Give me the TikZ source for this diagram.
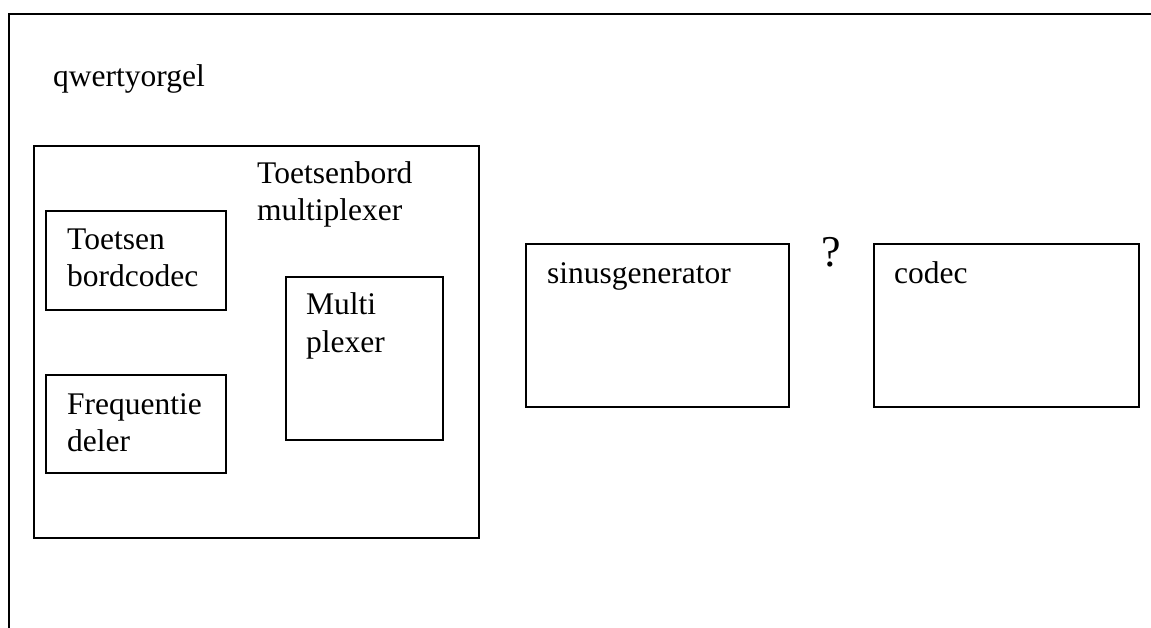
\documentclass[tikz,border=0pt]{standalone}
\usepackage{fontspec}
\setmainfont{Liberation Serif}
\begin{document}
\begin{tikzpicture}[x=1pt,y=-1pt,
  box/.style={draw=black,line width=1.8pt,inner sep=0pt,anchor=north west},
  lbl/.style={inner sep=0pt,anchor=base west,align=left,font=\fontsize{31.5}{37}\selectfont}]
\useasboundingbox (0,0) rectangle (1151,628);
\draw[line width=2.2pt] (9,640) -- (9,14) -- (1160,14);
\node[lbl] (title) at (53,87) {qwertyorgel};
% multiplexer group
\node[box,minimum width=445pt,minimum height=392pt] (grp) at (33,145) {};
\node[lbl] (grplbl) at (257,221) {Toetsenbord\\multiplexer};
\node[box,minimum width=180pt,minimum height=99pt] (kb) at (45,210) {};
\node[lbl] (kblbl) at (67,287) {Toetsen\\bordcodec};
\node[box,minimum width=180pt,minimum height=98pt] (fd) at (45,374) {};
\node[lbl] (fdlbl) at (67,451) {Frequentie\\deler};
\node[box,minimum width=157pt,minimum height=163pt] (mx) at (285,276) {};
\node[lbl] (mxlbl) at (306,352) {Multi\\plexer};
% right boxes
\node[box,minimum width=263pt,minimum height=163pt] (sg) at (525,243) {};
\node[lbl] (sglbl) at (547,284) {sinusgenerator};
\node[box,minimum width=265pt,minimum height=163pt] (cd) at (873,243) {};
\node[lbl] (cdlbl) at (894,284) {codec};
\node[inner sep=0pt,anchor=base west,font=\fontsize{44}{50}\selectfont] (q) at (821,267) {?};
\end{tikzpicture}
\end{document}
